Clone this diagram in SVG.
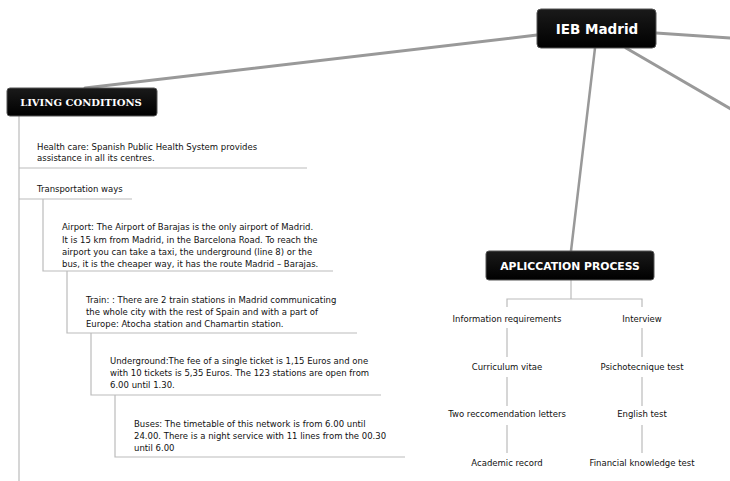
<svg xmlns="http://www.w3.org/2000/svg" width="730" height="481" viewBox="0 0 730 481">
<defs>
<linearGradient id="boxg" x1="0" y1="0" x2="0" y2="1">
<stop offset="0" stop-color="#1a1a1a"/>
<stop offset="1" stop-color="#000"/>
</linearGradient>
</defs>
<style>
.box{fill:url(#boxg);stroke:#555;stroke-width:1}
.main{fill:none;stroke:#999;stroke-width:3;stroke-linecap:round}
.tree{fill:none;stroke:#bbb;stroke-width:1.2}
.t{font-family:"DejaVu Sans",Verdana,sans-serif;font-size:8.5px;fill:#111}
.c{text-anchor:middle}
.hs{font-family:"DejaVu Sans",Verdana,sans-serif;font-weight:bold;fill:#fff;text-anchor:middle}
.hr{font-family:"DejaVu Serif",Georgia,serif;font-weight:bold;fill:#fff;text-anchor:middle}
</style>
<rect width="730" height="481" fill="#fff"/>
<g id="connectors">
<path class="main" d="M537 35 L85 88"/>
<path class="main" d="M656 33 L731 38"/>
<path class="main" d="M626 48 L731 109"/>
<path class="main" d="M595 48 L571 251" style="stroke-width:2.5"/>
<path class="tree" d="M19 116 V481"/>
<path class="tree" d="M19 168 H307"/>
<path class="tree" d="M19 199 H132"/>
<path class="tree" d="M43 199 V271 H333"/>
<path class="tree" d="M67 271 V333 H357"/>
<path class="tree" d="M91 333 V395 H381"/>
<path class="tree" d="M115 395 V457 H405"/>
<path class="tree" d="M571 280 V299 M507 307 V299 H642 V307"/>
<path class="tree" d="M507 328 V357 M507 377 V406 M507 425 V453"/>
<path class="tree" d="M642 328 V357 M642 377 V406 M642 425 V453"/>
</g>
<g id="ieb-madrid">
<rect class="box" x="537" y="9" width="119" height="39" rx="4"/>
<text class="hs" x="597" y="34" font-size="13.5">IEB Madrid</text>
</g>
<g id="living-conditions">
<rect class="box" x="7" y="88" width="150" height="28" rx="3"/>
<text class="hr" x="81" y="105.5" font-size="10">LIVING CONDITIONS</text>
</g>
<g id="health-care">
<text class="t" x="37" y="150">Health care: Spanish Public Health System provides</text>
<text class="t" x="37" y="161">assistance in all its centres.</text>
</g>
<g id="transportation-ways">
<text class="t" x="37" y="192">Transportation ways</text>
</g>
<g id="airport">
<text class="t" x="62" y="230">Airport: The Airport of Barajas is the only airport of Madrid.</text>
<text class="t" x="62" y="242.5">It is 15 km from Madrid, in the Barcelona Road. To reach the</text>
<text class="t" x="62" y="255">airport you can take a taxi, the underground (line 8) or the</text>
<text class="t" x="62" y="267">bus, it is the cheaper way, it has the route Madrid – Barajas.</text>
</g>
<g id="train">
<text class="t" x="86" y="303">Train: : There are 2 train stations in Madrid communicating</text>
<text class="t" x="86" y="315">the whole city with the rest of Spain and with a part of</text>
<text class="t" x="86" y="327">Europe: Atocha station and Chamartin station.</text>
</g>
<g id="underground">
<text class="t" x="110" y="364">Underground:The fee of a single ticket is 1,15 Euros and one</text>
<text class="t" x="110" y="376">with 10 tickets is 5,35 Euros. The 123 stations are open from</text>
<text class="t" x="110" y="388">6.00 until 1.30.</text>
</g>
<g id="buses">
<text class="t" x="134" y="427">Buses: The timetable of this network is from 6.00 until</text>
<text class="t" x="134" y="439">24.00. There is a night service with 11 lines from the 00.30</text>
<text class="t" x="134" y="451">until 6.00</text>
</g>
<g id="aplication-process">
<rect class="box" x="486" y="251" width="168" height="29" rx="3"/>
<text class="hs" x="570" y="269.5" font-size="10.8">APLICCATION PROCESS</text>
</g>
<g id="information-requirements"><text class="t c" x="507" y="322">Information requirements</text></g>
<g id="curriculum-vitae"><text class="t c" x="507" y="370">Curriculum vitae</text></g>
<g id="two-letters"><text class="t c" x="507" y="417">Two reccomendation letters</text></g>
<g id="academic-record"><text class="t c" x="507" y="466">Academic record</text></g>
<g id="interview"><text class="t c" x="642" y="322">Interview</text></g>
<g id="psichotecnique-test"><text class="t c" x="642" y="370">Psichotecnique test</text></g>
<g id="english-test"><text class="t c" x="642" y="417">English test</text></g>
<g id="financial-test"><text class="t c" x="642" y="466">Financial knowledge test</text></g>
</svg>
